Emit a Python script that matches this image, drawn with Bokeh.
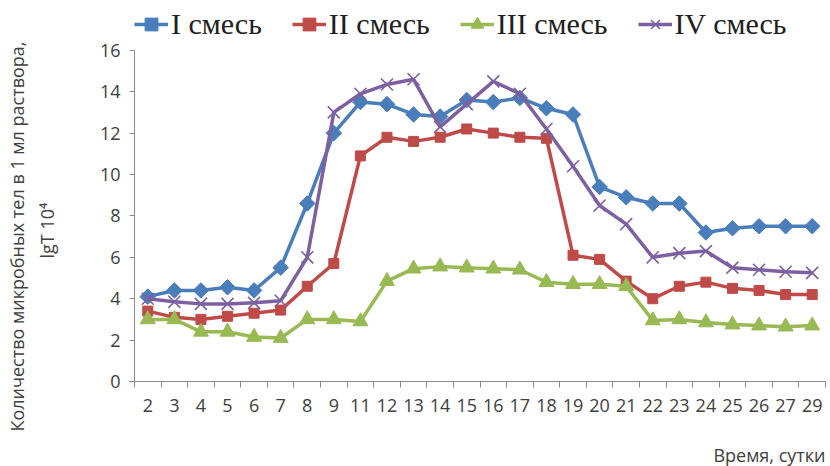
import math

from bokeh.plotting import figure
from bokeh.models import FixedTicker, Legend, LegendItem, Range1d, Title
from bokeh.embed import file_html
from bokeh.resources import INLINE

# Days of observation (10 and 28 were not sampled)
days = ["2", "3", "4", "5", "6", "7", "8", "9", "11", "12", "13", "14", "15",
        "16", "17", "18", "19", "20", "21", "22", "23", "24", "25", "26", "27", "29"]

# Microbial cell count, lgT 10^4, per mixture
mix_1 = [4.1, 4.4, 4.4, 4.55, 4.4, 5.5, 8.6, 12.0, 13.5, 13.4, 12.9, 12.8, 13.6,
         13.5, 13.7, 13.2, 12.9, 9.4, 8.9, 8.6, 8.6, 7.2, 7.4, 7.5, 7.5, 7.5]
mix_2 = [3.4, 3.1, 3.0, 3.15, 3.3, 3.45, 4.6, 5.7, 10.9, 11.8, 11.6, 11.8, 12.2,
         12.0, 11.8, 11.75, 6.1, 5.9, 4.85, 4.0, 4.6, 4.8, 4.5, 4.4, 4.2, 4.2]
mix_3 = [3.0, 3.0, 2.4, 2.4, 2.15, 2.1, 3.0, 3.0, 2.9, 4.85, 5.45, 5.55, 5.5,
         5.45, 5.4, 4.8, 4.7, 4.7, 4.6, 2.95, 3.0, 2.85, 2.75, 2.7, 2.65, 2.7]
mix_4 = [4.0, 3.85, 3.75, 3.75, 3.8, 3.9, 6.0, 13.0, 13.9, 14.35, 14.6, 12.3, 13.4,
         14.5, 13.9, 12.2, 10.4, 8.5, 7.6, 6.0, 6.2, 6.3, 5.5, 5.4, 5.3, 5.25]

series_names = ["I смесь", "II смесь", "III смесь", "IV смесь"]
y_ticks = [0, 2, 4, 6, 8, 10, 12, 14, 16]
y_title = ["Количество микробных тел в 1 мл раствора,", "lgT 10⁴"]
x_title = "Время, сутки"

x = list(range(len(days)))

AXIS_GREY = "#898989"
TEXT_GREY = "#404040"
SANS = "Open Sans"

# the frame reaches up to the top of the page so the legend row can sit above the
# value axis, whose line and ticks stop at 16
p = figure(width=830, height=466, output_backend="svg", toolbar_location=None,
           x_range=Range1d(-0.5, len(days) - 0.5), y_range=Range1d(0, 18.31),
           min_border_left=129, min_border_right=5, min_border_top=2,
           min_border_bottom=84)
p.outline_line_color = None
p.xgrid.visible = False
p.ygrid.visible = False
p.background_fill_color = "white"
p.border_fill_color = "white"

# x axis: labels at the category centres, tick marks on the category boundaries
p.xaxis.ticker = FixedTicker(ticks=x, minor_ticks=[i - 0.5 for i in range(len(days) + 1)])
p.xaxis.major_label_overrides = {i: d for i, d in enumerate(days)}
p.xaxis.major_tick_line_color = None
p.xaxis.major_tick_out = 6
p.xaxis.minor_tick_line_color = AXIS_GREY
p.xaxis.minor_tick_out = 6
p.xaxis.minor_tick_in = 0
p.xaxis.axis_line_color = AXIS_GREY
p.xaxis.major_label_text_font = SANS
p.xaxis.major_label_text_font_size = "18px"
p.xaxis.major_label_text_color = TEXT_GREY
p.xaxis.major_label_standoff = 11
p.xaxis.axis_label = " "
p.xaxis.axis_label_text_font_size = "8px"
p.xaxis.axis_label_standoff = 14

p.yaxis.ticker = FixedTicker(ticks=y_ticks)
p.yaxis.bounds = (0, 16)
p.yaxis.minor_tick_line_color = None
p.yaxis.major_tick_line_color = AXIS_GREY
p.yaxis.major_tick_out = 5
p.yaxis.major_tick_in = 0
p.yaxis.axis_line_color = AXIS_GREY
p.yaxis.major_label_text_font = SANS
p.yaxis.major_label_text_font_size = "18px"
p.yaxis.major_label_text_color = TEXT_GREY
p.yaxis.major_label_standoff = 9
p.yaxis.axis_label = " "
p.yaxis.axis_label_text_font_size = "10px"
p.yaxis.axis_label_standoff = 22

# two-line vertical axis title; the inner line is added first
p.add_layout(Title(text=y_title[1], align="left", offset=123, text_font=SANS,
                   text_font_size="18px", text_font_style="normal",
                   text_color=TEXT_GREY, standoff=4), "left")
p.add_layout(Title(text=y_title[0], align="left", offset=-50, text_font=SANS,
                   text_font_size="18px", text_font_style="normal",
                   text_color=TEXT_GREY, standoff=4), "left")

p.add_layout(Title(text=x_title, align="right", text_font=SANS,
                   text_font_size="18px", text_font_style="normal",
                   text_color=TEXT_GREY, standoff=0), "below")

styles = [
    (mix_1, "#4A7EBB", "square", 11, math.pi / 4),
    (mix_2, "#BE4B48", "square", 10, 0.0),
    (mix_3, "#98B954", "triangle", 15, 0.0),
    (mix_4, "#7D60A0", "x", 17, 0.0),
]

items = []
for name, (vals, color, marker, size, angle) in zip(series_names, styles):
    ln = p.line(x, vals, line_color=color, line_width=3.5)
    if marker == "x":
        mk = p.scatter(x, vals, marker="x", size=size, line_color=color, line_width=1.6)
    else:
        mk = p.scatter(x, vals, marker=marker, size=size, angle=angle,
                       fill_color=color, line_color=color)
    items.append(LegendItem(label=name, renderers=[ln, mk], index=0))

legend = Legend(items=items, orientation="horizontal", location=(0, 340),
                label_text_font="Liberation Serif", label_text_font_size="30px",
                label_text_color="#202020", glyph_width=34, glyph_height=32,
                label_standoff=3, spacing=30, padding=0, margin=0,
                border_line_color=None, background_fill_alpha=0)
p.add_layout(legend)

open("out.html", "w").write(file_html(p, INLINE))
